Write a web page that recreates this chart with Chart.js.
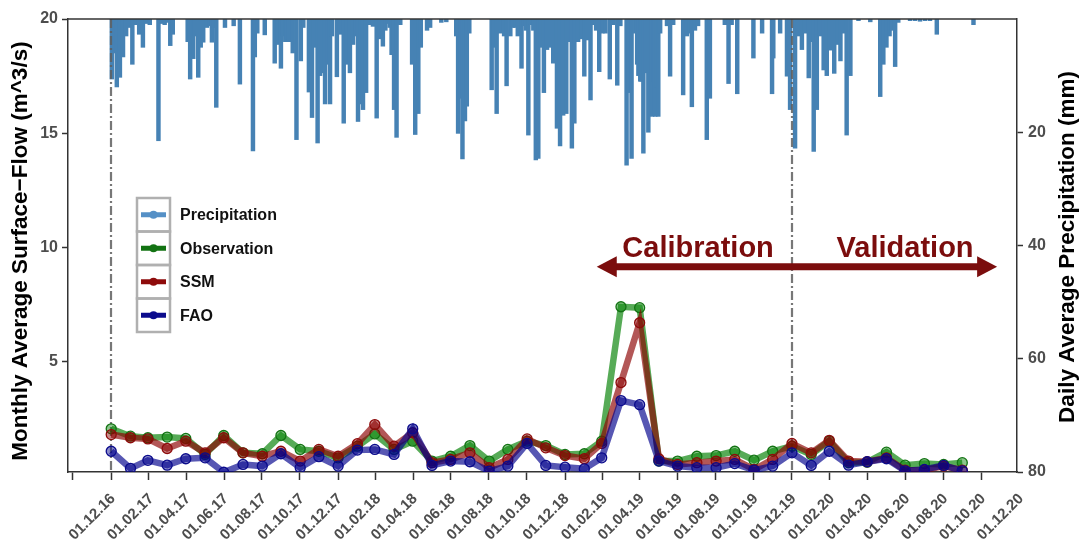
<!DOCTYPE html>
<html>
<head>
<meta charset="utf-8">
<title>Surface flow and precipitation</title>
<script src="https://cdn.jsdelivr.net/npm/chart.js@4.4.1/dist/chart.umd.min.js"></script>
<style>
  body { margin: 0; background: #fff; }
  #wrap { width: 1086px; height: 548px; position: relative; }
</style>
</head>
<body>
<div id="wrap"><canvas id="chart"></canvas></div>
<script>
// monthly surface flow, first day of each month
const months = [
  '2017-01', '2017-02', '2017-03', '2017-04', '2017-05', '2017-06', '2017-07', '2017-08', '2017-09', '2017-10', '2017-11', '2017-12',
  '2018-01', '2018-02', '2018-03', '2018-04', '2018-05', '2018-06', '2018-07', '2018-08', '2018-09', '2018-10', '2018-11', '2018-12',
  '2019-01', '2019-02', '2019-03', '2019-04', '2019-05', '2019-06', '2019-07', '2019-08', '2019-09', '2019-10', '2019-11', '2019-12',
  '2020-01', '2020-02', '2020-03', '2020-04', '2020-05', '2020-06', '2020-07', '2020-08', '2020-09', '2020-10'
];
const observation = [
  2.04, 1.72, 1.65, 1.68, 1.62, 0.92, 1.75, 0.99, 0.95, 1.75, 1.14, 1.06,
  0.77, 1.28, 1.82, 1.14, 1.50, 0.63, 0.84, 1.31, 0.63, 1.14, 1.50, 1.31,
  0.92, 0.95, 1.50, 7.39, 7.35, 0.63, 0.63, 0.84, 0.87, 1.06, 0.67, 1.06,
  1.28, 0.92, 1.50, 0.56, 0.58, 1.02, 0.45, 0.52, 0.48, 0.56
];
const ssm = [
  1.79, 1.65, 1.60, 1.18, 1.50, 0.99, 1.65, 0.99, 0.84, 1.06, 0.63, 1.14,
  0.84, 1.39, 2.23, 1.28, 1.87, 0.56, 0.70, 0.99, 0.34, 0.70, 1.60, 1.21,
  0.87, 0.73, 1.40, 4.07, 6.69, 0.73, 0.48, 0.56, 0.63, 0.70, 0.26, 0.70,
  1.40, 0.99, 1.54, 0.63, 0.60, 0.77, 0.23, 0.23, 0.41, 0.23
];
const fao = [
  1.06, 0.31, 0.66, 0.45, 0.73, 0.77, 0.14, 0.48, 0.41, 0.95, 0.34, 0.82,
  0.41, 1.11, 1.14, 0.92, 2.04, 0.44, 0.63, 0.60, 0.19, 0.41, 1.40, 0.44,
  0.36, 0.29, 0.77, 3.28, 3.10, 0.63, 0.41, 0.34, 0.34, 0.52, 0.23, 0.41,
  0.99, 0.44, 1.06, 0.45, 0.60, 0.73, 0.20, 0.26, 0.44, 0.20
];

// daily precipitation: day number counted from 01.12.2016, rainfall in mm
const precipDay = [
  32, 35, 40, 45, 50, 55, 60, 65, 71, 76, 82, 87, 93, 107, 113, 117, 122, 126, 130,
  154, 158, 163, 166, 171, 175, 179, 185, 189, 193, 196, 200, 214, 228, 238, 259, 262,
  266, 278, 294, 299, 304, 307, 311, 314, 317, 323, 329, 336, 340, 349, 354, 357, 363,
  367, 372, 375, 380, 383, 386, 394, 399, 405, 410, 415, 420, 424, 428, 433, 436, 441,
  447, 452, 458, 463, 468, 472, 476, 479, 482, 486, 490, 496, 515, 520, 525, 529, 539,
  544, 562, 570, 586, 589, 593, 596, 600, 603, 607, 643, 647, 651, 656, 660, 663, 667,
  673, 677, 681, 685, 691, 694, 698, 702, 706, 710, 714, 718, 722, 727, 732, 737, 742,
  748, 753, 758, 763, 766, 772, 776, 782, 788, 792, 796, 802, 806, 811, 816, 821, 826,
  833, 838, 845, 850, 860, 864, 868, 874, 877, 879, 882, 884, 887, 891, 895, 898, 901,
  903, 906, 909, 911, 914, 925, 930, 935, 951, 957, 961, 965, 970, 975, 989, 994, 1018,
  1024, 1029, 1038, 1064, 1078, 1094, 1096, 1107, 1118, 1123, 1131, 1136, 1142, 1147,
  1153, 1157, 1161, 1166, 1171, 1177, 1182, 1187, 1194, 1199, 1204, 1208, 1214, 1220,
  1233, 1252, 1268, 1273, 1278, 1283, 1287, 1292, 1297, 1316, 1324, 1332, 1340, 1348,
  1359, 1418
];
const precipMm = [
  10.6, 6, 12, 10.3, 6.7, 3, 1.5, 8, 1, 2.7, 5, 0.8, 1, 21.5, 0.8, 1, 0.6, 4.7, 2.7,
  4, 10.6, 7, 3, 10.3, 5, 4.1, 1.5, 1.2, 4.1, 1.5, 15.6, 1.5, 1.2, 11.5, 23.3, 6.7,
  2.5, 2.8, 7.8, 4.5, 8.7, 3, 4, 3.5, 4, 6, 21.3, 7.4, 1.5, 12.9, 17.4, 5, 21.9,
  10, 9.5, 15, 8, 15, 3, 10.2, 2.7, 18.4, 8, 9.5, 4.5, 3, 18.1, 15, 16, 13,
  1, 1.3, 17.5, 3.5, 4.8, 2, 0.8, 1.5, 6.3, 16, 20.9, 1, 8, 20.4, 16.7, 5, 2,
  1.5, 0.6, 0.5, 3, 20.2, 14, 24.7, 18, 15.4, 2.5, 12.5, 5, 16.7, 2.5, 2, 3, 11.8,
  3, 1.5, 1.5, 3, 8.7, 1.2, 2, 20.5, 1, 2, 24.9, 24.6, 5, 13, 5.4, 5, 7.8,
  19.3, 22.4, 17, 16.7, 4, 22.8, 18.4, 4, 3.5, 10.1, 3.7, 14.3, 1, 2, 9.3, 2.5, 2.5,
  10.6, 1, 11.7, 1.2, 25.8, 13, 24.6, 2.5, 8, 10, 11, 11, 23.7, 9.5, 20, 11, 17.2,
  11, 17.2, 12, 17.2, 2.5, 1.2, 10.1, 1, 13.4, 3, 2.5, 15.5, 2, 1.2, 21.3, 14, 1,
  11.4, 1, 13.2, 6.9, 2.5, 13.2, 6.9, 2.5, 10.1, 16, 22.8, 3, 5.4, 2.5,
  10.4, 4, 23.4, 16, 3, 9, 10, 5.5, 9.6, 4.5, 7.4, 2.5, 20.5, 10,
  0.3, 0.5, 13.7, 8, 5, 3, 2, 8.4, 0.6, 0.3, 0.3, 0.4, 0.3, 0.3,
  2.7, 1
];

const tickDates = [
  '2016-12-01', '2017-02-01', '2017-04-01', '2017-06-01', '2017-08-01', '2017-10-01', '2017-12-01',
  '2018-02-01', '2018-04-01', '2018-06-01', '2018-08-01', '2018-10-01', '2018-12-01',
  '2019-02-01', '2019-04-01', '2019-06-01', '2019-08-01', '2019-10-01', '2019-12-01',
  '2020-02-01', '2020-04-01', '2020-06-01', '2020-08-01', '2020-10-01', '2020-12-01'
];
// start of calibration and of validation
const splitDates = ['2017-01-01', '2020-01-01'];

const DAY0 = Date.UTC(2016, 11, 1);
function dayOf(s) {
  const p = s.split('-').map(Number);
  return (Date.UTC(p[0], p[1] - 1, p[2] || 1) - DAY0) / 86400000;
}
function tickText(s) {
  const p = s.split('-');
  return p[2] + '.' + p[1] + '.' + p[0].slice(2);
}
const tickLabels = tickDates.map(tickText);

function monthly(values) {
  return values.map((v, i) => ({ x: dayOf(months[i]), y: v }));
}

const FONT = "'Liberation Sans', Arial, sans-serif";
Chart.defaults.font.family = FONT;
Chart.defaults.font.weight = 'bold';

function verticalText(ctx, text, x, y) {
  ctx.save();
  ctx.translate(x, y);
  ctx.rotate(-Math.PI / 2);
  ctx.fillText(text, 0, 0);
  ctx.restore();
}

const frame = {
  id: 'frame',
  afterDatasetDraw(chart, args) {
    // dash-dot split lines sit above the rain bars, under the flow lines
    if (args.index !== 3) return;
    const { ctx, chartArea: a, scales } = chart;
    ctx.save();
    ctx.strokeStyle = 'rgba(95,95,95,0.85)';
    ctx.lineWidth = 2.2;
    ctx.setLineDash([9, 3, 2, 3]);
    splitDates.forEach(d => {
      const x = Math.round(scales.x.getPixelForValue(dayOf(d)));
      ctx.beginPath();
      ctx.moveTo(x, a.top);
      ctx.lineTo(x, a.bottom);
      ctx.stroke();
    });
    ctx.restore();
  },
  afterDraw(chart) {
    const { ctx, chartArea: a, scales } = chart;
    ctx.save();
    ctx.strokeStyle = '#333';
    ctx.lineWidth = 1.5;
    ctx.beginPath();
    ctx.moveTo(a.left, a.top);
    ctx.lineTo(a.right, a.top);
    ctx.stroke();

    // axis titles, both read bottom to top
    ctx.fillStyle = '#000';
    ctx.font = 'bold 22.5px ' + FONT;
    ctx.textAlign = 'center';
    ctx.textBaseline = 'middle';
    verticalText(ctx, 'Monthly Average Surface\u2212Flow (m^3/s)', 21, 251);
    verticalText(ctx, 'Daily Average Precipitation (mm)', 1068, 247);
    ctx.restore();

    // calibration / validation double arrow
    const red = '#7b0d0d';
    const xs = scales.x, ys = scales.y;
    const yA = ys.getPixelForValue(9.14);
    const x1 = xs.getPixelForValue(812), x2 = xs.getPixelForValue(1456);
    const head = 20, half = 10.5;
    ctx.save();
    ctx.strokeStyle = red;
    ctx.fillStyle = red;
    ctx.lineWidth = 7;
    ctx.beginPath();
    ctx.moveTo(x1 + head - 2, yA);
    ctx.lineTo(x2 - head + 2, yA);
    ctx.stroke();
    ctx.beginPath();
    ctx.moveTo(x1, yA);
    ctx.lineTo(x1 + head, yA - half);
    ctx.lineTo(x1 + head, yA + half);
    ctx.closePath();
    ctx.fill();
    ctx.beginPath();
    ctx.moveTo(x2, yA);
    ctx.lineTo(x2 - head, yA - half);
    ctx.lineTo(x2 - head, yA + half);
    ctx.closePath();
    ctx.fill();
    ctx.font = 'bold 29px ' + FONT;
    ctx.textAlign = 'center';
    ctx.textBaseline = 'middle';
    ctx.fillText('Calibration', xs.getPixelForValue(975), ys.getPixelForValue(9.9));
    ctx.fillText('Validation', xs.getPixelForValue(1308), ys.getPixelForValue(9.9));
    ctx.restore();
  }
};

const keyBox = {
  id: 'keyBox',
  afterDraw(chart) {
    const { ctx } = chart;
    const keys = [3, 2, 1, 0].map(i => chart.data.datasets[i]);
    const x0 = 137, y0 = 198, w = 33, h = 33.5;
    ctx.save();
    ctx.fillStyle = '#fff';
    ctx.fillRect(x0, y0, w, h * keys.length);
    keys.forEach((ds, i) => {
      const cy = y0 + h * i + h / 2;
      ctx.strokeStyle = '#b0b0b0';
      ctx.lineWidth = 2.5;
      ctx.strokeRect(x0, y0 + h * i, w, h);
      ctx.strokeStyle = ds.keyColor;
      ctx.lineWidth = 5;
      ctx.beginPath();
      ctx.moveTo(x0 + 4, cy);
      ctx.lineTo(x0 + w - 4, cy);
      ctx.stroke();
      ctx.fillStyle = ds.keyColor;
      ctx.beginPath();
      ctx.arc(x0 + w / 2, cy, 4, 0, Math.PI * 2);
      ctx.fill();
      ctx.fillStyle = '#111';
      ctx.font = 'bold 16px ' + FONT;
      ctx.textAlign = 'left';
      ctx.textBaseline = 'middle';
      ctx.fillText(ds.label, x0 + w + 10, cy + 1);
    });
    ctx.restore();
  }
};

function flowLine(label, values, rgb, dark, order) {
  return {
    type: 'line',
    label: label,
    data: monthly(values),
    yAxisID: 'y',
    order: order,
    keyColor: dark,
    borderColor: 'rgba(' + rgb + ',0.66)',
    borderWidth: 6.5,
    pointRadius: 5,
    pointBorderWidth: 1.3,
    pointBackgroundColor: 'rgba(' + rgb + ',0.45)',
    pointBorderColor: dark,
    tension: 0
  };
}

new Chart('chart', {
  type: 'line',
  data: {
    datasets: [
      flowLine('FAO', fao, '0,0,139', '#0b0b8c', 1),
      flowLine('SSM', ssm, '139,0,0', '#8e0b0b', 2),
      flowLine('Observation', observation, '0,128,0', '#137313', 3),
      {
        type: 'bar',
        label: 'Precipitation',
        data: precipDay.map((d, i) => ({ x: d, y: precipMm[i] })),
        yAxisID: 'y2',
        order: 4,
        keyColor: '#5590c6',
        backgroundColor: '#4682B4',
        barThickness: 3.8,
        grouped: false
      }
    ]
  },
  options: {
    responsive: true,
    maintainAspectRatio: false,
    animation: false,
    layout: { padding: { top: 19, left: 0, right: 0, bottom: 0 } },
    plugins: { legend: { display: false }, tooltip: { enabled: false } },
    scales: {
      x: {
        type: 'linear',
        min: -38.5,
        max: 1488,
        offset: false,
        afterBuildTicks: s => { s.ticks = tickDates.map(d => ({ value: dayOf(d) })); },
        afterFit: s => { s.height = 76; },
        grid: { drawOnChartArea: false, tickLength: 8, tickColor: '#333', tickWidth: 1.5 },
        border: { color: '#333', width: 1.5 },
        ticks: {
          autoSkip: false, minRotation: 45, maxRotation: 45, padding: 10, labelOffset: 21,
          color: '#4d4d4d', font: { size: 15, weight: 'bold' },
          callback: (v, i) => tickLabels[i]
        }
      },
      y: {
        position: 'left',
        min: 0.15,
        max: 20,
        afterBuildTicks: s => { s.ticks = [5, 10, 15, 20].map(v => ({ value: v })); },
        afterFit: s => { s.width = 68; },
        grid: { drawOnChartArea: false, tickLength: 6, tickColor: '#333', tickWidth: 1.5 },
        border: { color: '#333', width: 1.5 },
        ticks: { padding: 4, color: '#4d4d4d', font: { size: 16, weight: 'bold' } }
      },
      y2: {
        position: 'right',
        reverse: true,
        min: 0,
        max: 80,
        afterBuildTicks: s => { s.ticks = [20, 40, 60, 80].map(v => ({ value: v })); },
        afterFit: s => { s.width = 69; },
        grid: { drawOnChartArea: false, tickLength: 6, tickColor: '#333', tickWidth: 1.5 },
        border: { color: '#333', width: 1.5 },
        ticks: { padding: 5, color: '#4d4d4d', font: { size: 16, weight: 'bold' } }
      }
    }
  },
  plugins: [frame, keyBox]
});
</script>
</body>
</html>
